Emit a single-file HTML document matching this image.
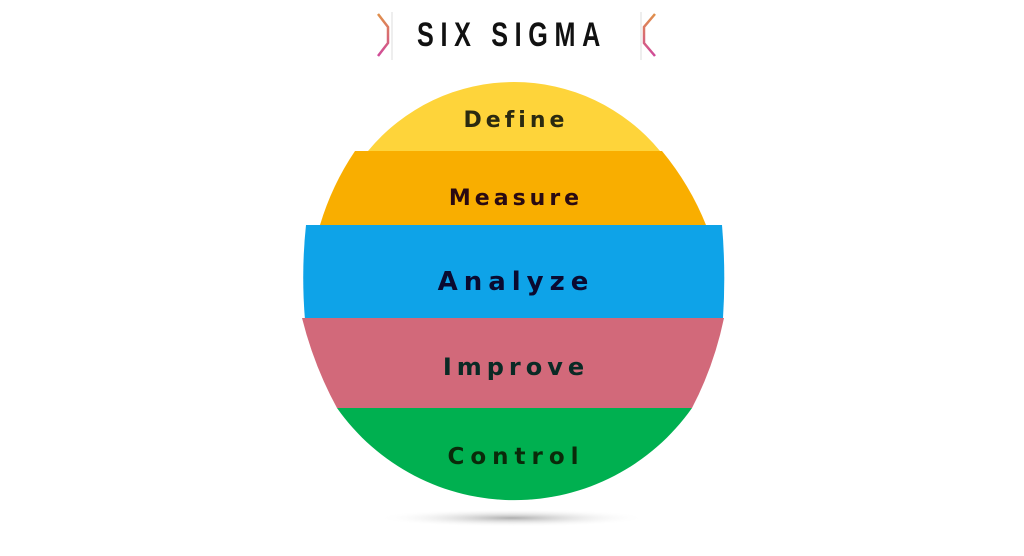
<!DOCTYPE html>
<html><head><style>
html,body{margin:0;padding:0;background:#fff;}
svg{display:block}
text{font-family:"DejaVu Sans","Liberation Sans",sans-serif;font-weight:bold;}
</style></head><body>
<svg width="1024" height="556" viewBox="0 0 1024 556" xmlns="http://www.w3.org/2000/svg">
<defs>
<linearGradient id="br" x1="0" y1="0" x2="0" y2="1"><stop offset="0" stop-color="#e0904a"/><stop offset="1" stop-color="#d04a9a"/></linearGradient>
<radialGradient id="sh" cx="0.5" cy="0.5" r="0.5"><stop offset="0" stop-color="#999" stop-opacity="0.8"/><stop offset="1" stop-color="#fff" stop-opacity="0"/></radialGradient>
</defs>
<rect width="1024" height="556" fill="#fff"/>
<path d="M378,14 L388,27 L388,43 L378,56" fill="none" stroke="url(#br)" stroke-width="2.5"/>
<line x1="392" y1="12" x2="392" y2="60" stroke="#ddd" stroke-width="1"/>
<path d="M655,14 L644,27 L644,43 L655,56" fill="none" stroke="url(#br)" stroke-width="2.5"/>
<line x1="641" y1="12" x2="641" y2="60" stroke="#ddd" stroke-width="1"/>
<text x="512" y="46" text-anchor="middle" style="font-family:'Liberation Sans',sans-serif;font-weight:bold" font-size="34" letter-spacing="9" fill="#111" transform="translate(512 0) scale(0.74 1) translate(-512 0)">SIX SIGMA</text>
<ellipse cx="512" cy="518" rx="135" ry="9" fill="url(#sh)"/>
<path d="M368,151 A189,189 0 0 1 660,151 Z" fill="#fed43a"/>
<path d="M355,151 L662,151 Q690,185 706,225 L320,225 Q332,185 355,151 Z" fill="#f9ae00"/>
<path d="M306,225 L722,225 Q726,272 723,318 L305,320 Q301,272 306,225 Z" fill="#0ea3e8"/>
<path d="M302,318 L724,318 Q714,366 692,408 L337,408 Q314,366 302,318 Z" fill="#d2697a"/>
<path d="M337,408 L692,408 A217,217 0 0 1 337,408 Z" fill="#00b050"/>
<text x="516" y="127" text-anchor="middle" font-size="22" letter-spacing="4" fill="#2b2a10">Define</text>
<text x="516" y="205" text-anchor="middle" font-size="22" letter-spacing="4" fill="#2a0a12">Measure</text>
<text x="516" y="290" text-anchor="middle" font-size="26" letter-spacing="6" fill="#0a0a30">Analyze</text>
<text x="516" y="375" text-anchor="middle" font-size="24" letter-spacing="5" fill="#0a2a25">Improve</text>
<text x="516" y="464" text-anchor="middle" font-size="23" letter-spacing="6" fill="#0a2a0a">Control</text>
</svg>
</body></html>
